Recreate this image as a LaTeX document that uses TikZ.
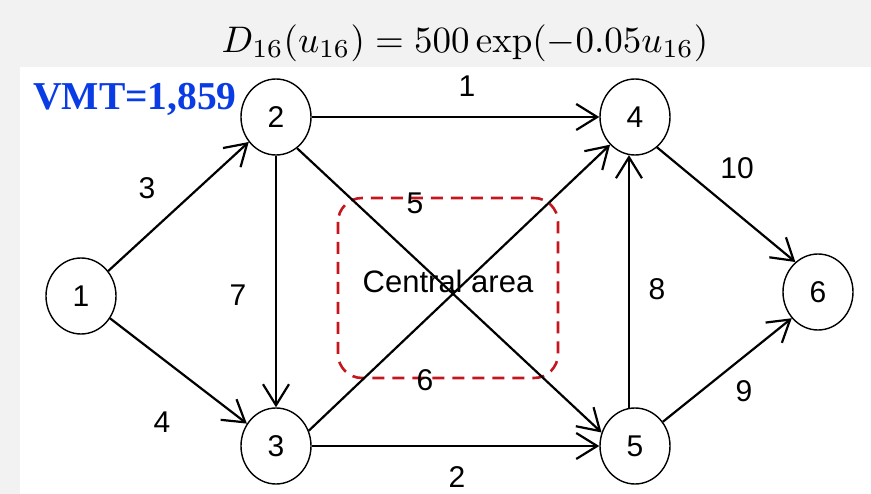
\documentclass[tikz,border=0pt]{standalone}
\usepackage[no-math]{fontspec}
\setmainfont{Liberation Sans}
\newfontfamily\vmtfont{Liberation Serif}
\usetikzlibrary{arrows.meta,shapes.geometric}
\definecolor{bggray}{RGB}{242,242,242}
\definecolor{vmtblue}{RGB}{10,60,230}
\definecolor{areared}{RGB}{196,22,28}

\begin{document}
\begin{tikzpicture}[
    x=1pt, y=-1pt,
    font=\fontsize{30}{35}\selectfont,
    zone/.style={ellipse, draw, line width=1.4pt, fill=white, minimum width=70pt, minimum height=76pt, inner sep=0pt},
    lbl/.style={inner sep=0pt},
    arr/.style={-{Straight Barb[length=21pt,width=26pt]}, line width=2.2pt},
    area/.style={draw=areared, line width=2.6pt, dash pattern=on 12pt off 8pt, rounded corners=24pt},
]
\useasboundingbox (0,0) rectangle (871,494);
\fill[bggray] (0,0) rectangle (871,494);
\fill[white] (20,67) rectangle (871,494);

\node (dfun) at (465,43) {\normalsize\scalebox{3.7}{$D_{16}(u_{16}) = 500\exp(-0.05u_{16})$}};
\node[text=vmtblue, font=\vmtfont\bfseries\fontsize{39.5}{46}\selectfont, anchor=base west, inner sep=0pt] (vmt) at (33,110) {VMT=1,859};

\draw[area] (338,198) rectangle (558,378);
\node[lbl, font=\fontsize{31}{36}\selectfont] (ctr) at (448,281) {Central area};

\node[zone] (n1) at (81,296) {1};
\node[zone] (n2) at (276,117) {2};
\node[zone] (n3) at (276,446) {3};
\node[zone] (n4) at (635,117) {4};
\node[zone] (n5) at (635,446) {5};
\node[zone] (n6) at (818,292) {6};

\draw[arr] (n1) -- (n2);
\draw[arr] (n1) -- (n3);
\draw[arr] (n2) -- (n3);
\draw[arr] (n2) -- (n4);
\draw[arr] (n2.-56) -- (n5.158);
\draw[arr] (n3.25) -- (n4.228);
\draw[arr] (n3) -- (n5);
\draw[arr] (n5.99) -- (n4.261);
\draw[arr] (n4.-54) -- (n6.127);
\draw[arr] (n5.41) -- (n6.225);

\node[lbl] (c12) at (147,188) {3};
\node[lbl] (c13) at (162,422) {4};
\node[lbl] (c23) at (238,295) {7};
\node[lbl] (c24) at (467,86) {1};
\node[lbl] (c25) at (415,203) {5};
\node[lbl] (c34) at (425,380) {6};
\node[lbl] (c35) at (457,477) {2};
\node[lbl] (c54) at (657,289) {8};
\node[lbl] (c46) at (737,168) {10};
\node[lbl] (c56) at (744,391) {9};
\end{tikzpicture}
\end{document}
